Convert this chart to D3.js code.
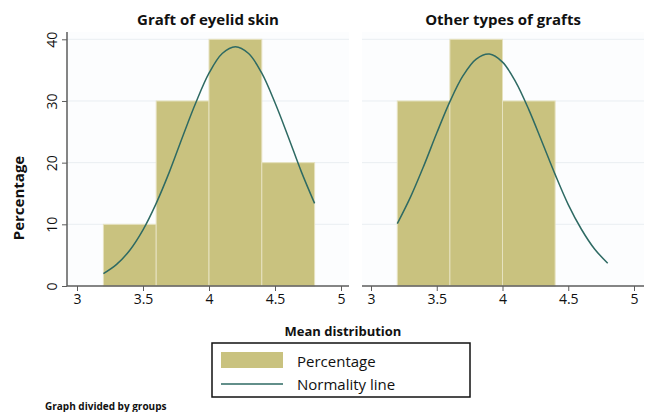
<!DOCTYPE html>
<html>
<head>
<meta charset="utf-8">
<script src="https://cdn.jsdelivr.net/npm/d3@7"></script>
<style>
  body { margin: 0; background: #fff; }
  text { font-family: "Open Sans", sans-serif; fill: #111; }
</style>
</head>
<body>
<div id="chart"></div>
<script>
// histogram bins (lower edge, upper edge) and percentages per group
var groups = ["Graft of eyelid skin", "Other types of grafts"];
var binStarts = [3.2, 3.6, 4.0, 4.4];
var binWidth = 0.4;
var eyelidPct = [10, 30, 40, 20];
var otherPct = [30, 40, 30, 0];

// normality line, x = 3.2 .. 4.8 by 0.1
var curveX = [3.2, 3.3, 3.4, 3.5, 3.6, 3.7, 3.8, 3.9, 4.0, 4.1, 4.2, 4.3, 4.4, 4.5, 4.6, 4.7, 4.8];
var eyelidCurve = [2.0, 3.5, 5.8, 9.1, 13.4, 18.5, 24.2, 29.7, 34.5, 37.7, 38.8, 37.7, 34.5, 29.7, 24.2, 18.5, 13.4];
var otherCurve = [10.1, 14.4, 19.4, 24.8, 29.9, 34.1, 36.8, 37.6, 36.3, 33.1, 28.6, 23.4, 18.1, 13.2, 9.2, 6.0, 3.7];

var xTicks = [3, 3.5, 4, 4.5, 5];
var yTicks = [0, 10, 20, 30, 40];
var legendLabels = ["Percentage", "Normality line"];

var barColor = "#c9c27f";
var lineColor = "#2e6a63";
var gridColor = "#e9eef2";
var axisColor = "#5c5c5c";

var width = 646, height = 412;
var svg = d3.select("#chart").append("svg")
  .attr("width", width)
  .attr("height", height);

var y = d3.scaleLinear().domain([0, 40]).range([286, 39.3]);
var plotTop = 32;

var panels = [
  { title: groups[0], pct: eyelidPct, curve: eyelidCurve, left: 67, right: 349, x0: 77, x1: 341, yAxis: true },
  { title: groups[1], pct: otherPct, curve: otherCurve, left: 362, right: 644, x0: 371, x1: 634, yAxis: false }
];

panels.forEach(function (p) {
  var x = d3.scaleLinear().domain([3, 5]).range([p.x0, p.x1]);
  var g = svg.append("g");

  g.append("rect")
    .attr("x", p.left).attr("y", plotTop)
    .attr("width", p.right - p.left).attr("height", y(0) - plotTop)
    .attr("fill", "#fcfdfe");

  g.selectAll(".grid").data(yTicks.slice(1)).enter().append("line")
    .attr("x1", p.left).attr("x2", p.right)
    .attr("y1", function (d) { return y(d); })
    .attr("y2", function (d) { return y(d); })
    .attr("stroke", gridColor).attr("stroke-width", 1);

  var bins = binStarts.map(function (s, i) { return { start: s, v: p.pct[i] }; })
    .filter(function (d) { return d.v > 0; });

  g.selectAll(".bar").data(bins).enter().append("rect")
    .attr("x", function (d) { return x(d.start); })
    .attr("width", function (d) { return x(d.start + binWidth) - x(d.start); })
    .attr("y", function (d) { return y(d.v); })
    .attr("height", function (d) { return y(0) - y(d.v); })
    .attr("fill", barColor)
    .attr("stroke", "#e6e2bf")
    .attr("stroke-width", 1);

  var line = d3.line()
    .x(function (d, i) { return x(curveX[i]); })
    .y(function (d) { return y(d); })
    .curve(d3.curveCatmullRom);

  g.append("path")
    .datum(p.curve)
    .attr("d", line)
    .attr("fill", "none")
    .attr("stroke", lineColor)
    .attr("stroke-width", 1.5);

  var xAxis = g.append("g")
    .attr("transform", "translate(0," + y(0) + ")")
    .call(d3.axisBottom(x).tickValues(xTicks).tickSize(5).tickSizeOuter(0)
      .tickFormat(d3.format("")));
  xAxis.select(".domain").remove();
  xAxis.append("line")
    .attr("x1", p.left).attr("x2", p.right)
    .attr("stroke", axisColor).attr("stroke-width", 1.5);
  xAxis.selectAll(".tick line").attr("stroke", axisColor);
  xAxis.selectAll(".tick text")
    .attr("y", 8)
    .style("font-family", "Open Sans, sans-serif")
    .style("font-size", "14px")
    .attr("fill", "#111");

  if (p.yAxis) {
    var yAxis = g.append("g")
      .attr("transform", "translate(" + p.left + ",0)")
      .call(d3.axisLeft(y).tickValues(yTicks).tickSize(5).tickSizeOuter(0));
    yAxis.select(".domain").remove();
    yAxis.append("line")
      .attr("y1", plotTop).attr("y2", y(0))
      .attr("stroke", axisColor).attr("stroke-width", 1.5);
    yAxis.selectAll(".tick line").attr("stroke", axisColor);
    yAxis.selectAll(".tick text")
      .attr("x", null).attr("dy", null)
      .attr("transform", "translate(-10,0) rotate(-90)")
      .attr("text-anchor", "middle")
      .style("font-family", "Open Sans, sans-serif")
      .style("font-size", "14px")
      .attr("fill", "#111");
  }

  svg.append("text")
    .attr("x", (p.left + p.right) / 2)
    .attr("y", 25)
    .attr("text-anchor", "middle")
    .style("font-size", "15px")
    .style("font-weight", "bold")
    .text(p.title);
});

svg.append("text")
  .attr("transform", "translate(24,198) rotate(-90)")
  .attr("text-anchor", "middle")
  .style("font-size", "15px")
  .style("font-weight", "bold")
  .text("Percentage");

svg.append("text")
  .attr("x", 343).attr("y", 336)
  .attr("text-anchor", "middle")
  .style("font-size", "13px")
  .style("font-weight", "bold")
  .text("Mean distribution");

// legend
var lg = svg.append("g");
lg.append("rect")
  .attr("x", 212).attr("y", 343)
  .attr("width", 258).attr("height", 54)
  .attr("fill", "#fff").attr("stroke", "#111").attr("stroke-width", 1.5);
lg.append("rect")
  .attr("x", 221).attr("y", 352).attr("width", 62).attr("height", 16)
  .attr("fill", barColor);
lg.append("line")
  .attr("x1", 221).attr("x2", 283).attr("y1", 384).attr("y2", 384)
  .attr("stroke", lineColor).attr("stroke-width", 1.5);
lg.selectAll(".lt").data(legendLabels).enter().append("text")
  .attr("x", 297)
  .attr("y", function (d, i) { return 367 + i * 23; })
  .style("font-size", "15px")
  .text(function (d) { return d; });

svg.append("text")
  .attr("x", 45).attr("y", 410)
  .style("font-size", "10px")
  .style("font-weight", "bold")
  .text("Graph divided by groups");
</script>
</body>
</html>
